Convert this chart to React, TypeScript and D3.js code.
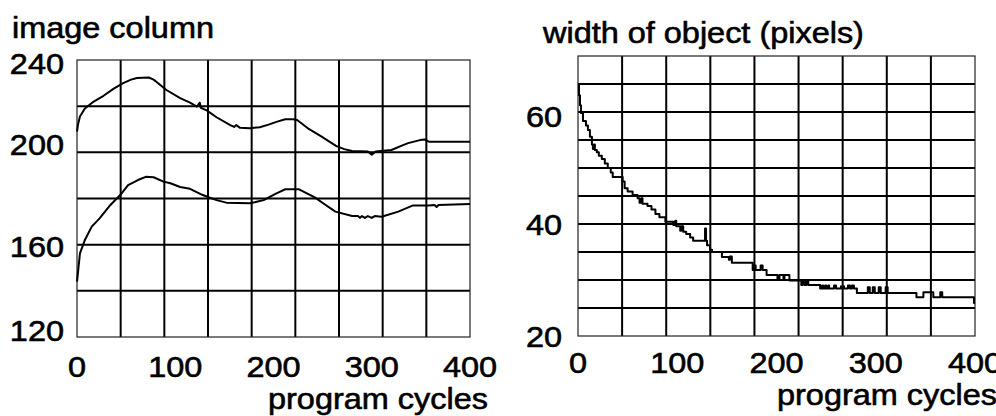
import React from "react";
import * as d3 from "d3";

// tick labels
const cycleTicks = [0, 100, 200, 300, 400];
const columnTicks = [120, 160, 200, 240];
const widthTicks = [20, 40, 60];

// left panel: image column of the two object edges, per program cycle
const upperEdge: [number, number][] = [
  [0, 209], [1, 212], [3, 215.5], [8, 219], [17, 222], [27, 224.5], [37, 227.5],
  [47, 230], [55, 231.5], [61, 232.2], [73, 232.4], [78, 231.5], [81, 230.5],
  [91, 227], [105, 223.5], [115, 221.5], [122, 219.8], [125, 221.5], [126, 219.3],
  [132, 218.2], [142, 215.2], [156, 211.8], [160, 211], [162, 211.8], [166, 210.6],
  [176, 210.4], [186, 210.9], [195, 212], [203, 213.2], [212, 214.3], [220, 214.3],
  [224, 214], [235, 210.4], [249, 206.8], [264, 202.7], [272, 201.4], [280, 200.6],
  [296, 200.4], [300, 199], [304, 200.4], [320, 201], [330, 202.8], [337, 204],
  [349, 205.3], [354, 205.6], [358, 204.6], [400, 204.6],
];
const lowerEdge: [number, number][] = [
  [0, 144], [1, 148], [3, 156.2], [8, 162], [15, 167.8], [23, 171.4], [34, 177.2],
  [44, 181.5], [52, 185.8], [62, 188], [70, 189.4], [78, 189.2], [88, 187.3],
  [95, 186.6], [105, 185], [115, 184.2], [128, 181.5], [142, 179.3], [152, 178.2],
  [176, 177.9], [190, 179.3], [203, 182.2], [212, 184], [226, 184], [242, 180.5],
  [252, 177.5], [263, 174.3], [280, 172.4], [286, 172.4], [288, 171.6], [290, 172.4],
  [293, 171.6], [296, 172.4], [300, 171.6], [303, 172.4], [310, 172.1], [327, 174.3],
  [342, 177], [358, 177], [364, 177.2], [366, 176.3], [368, 177.2], [400, 177.6],
];

// right panel: width of object in pixels (stepped)
const objectWidth: [number, number][] = [
  [0, 65], [1, 63], [2, 61.2], [3, 59.8], [5, 58.4], [8, 57.6], [10, 56.8], [12, 55.6],
  [14, 54.2], [15, 53.4], [16, 54.2], [17, 53.2], [19, 52.8], [21, 52.2], [24, 51.6],
  [27, 50.8], [30, 50.0], [33, 49.2], [35, 48.4], [45, 47.6], [47, 46.4], [50, 45.8],
  [55, 45.2], [60, 44.6], [62, 43.8], [64, 44.6], [65, 43.6], [70, 43.2], [74, 42.6],
  [78, 41.8], [82, 41.2], [88, 40.4], [96, 39.8], [98, 40.6], [99, 39.6], [103, 38.8],
  [104, 39.6], [106, 38.6], [109, 38.2], [113, 37.6], [116, 37.0], [128, 39.2],
  [129, 37.0], [130, 36.2], [133, 35.4], [135, 35.0], [145, 34.1], [152, 33.6],
  [153, 34.2], [155, 33.1], [176, 31.8], [177, 32.6], [179, 31.8], [184, 32.6],
  [186, 31.8], [190, 30.9], [200, 30.9], [201, 30.0], [203, 30.9], [207, 30.0],
  [208, 30.9], [212, 30.9], [213, 29.9], [225, 29.1], [226, 29.8], [228, 29.1],
  [230, 29.8], [232, 29.1], [244, 28.5], [246, 29.0], [247, 28.5], [249, 29.0],
  [250, 28.5], [252, 29.0], [253, 28.5], [258, 29.0], [260, 28.5], [265, 28.9],
  [268, 28.5], [272, 29.0], [274, 28.5], [276, 29.0], [278, 28.5], [281, 27.7],
  [292, 28.7], [294, 27.7], [297, 28.7], [299, 27.7], [303, 28.7], [305, 27.7],
  [310, 28.7], [312, 27.7], [341, 26.9], [348, 27.8], [358, 26.9], [365, 27.8],
  [367, 26.9], [399, 25.9], [400, 25.9],
];

const W = 996;
const H = 416;
const FONT = "'Liberation Sans', Arial, Helvetica, sans-serif";
const FS = 29.5;
const SX = 1.1; // the original lettering is a bit wider than Arial

function Label({ x, y, anchor = "start", children }: any) {
  return (
    <text
      transform={`translate(${x},${y}) scale(${SX},1)`}
      textAnchor={anchor}
      fontFamily={FONT}
      fontSize={FS}
      fill="#000"
      stroke="#000"
      strokeWidth={0.6}
    >
      {children}
    </text>
  );
}

function Panel(p: any) {
  const x = d3.scaleLinear().domain([0, 400]).range([p.x0, p.x1]);
  const y = d3.scaleLinear().domain(p.yDomain).range([p.y1, p.y0]);
  const vGrid = d3.range(1, 9).map((i) => (i * 400) / 9);
  const hGrid = d3.range(p.yDomain[0] + p.yStep, p.yDomain[1] - 0.001, p.yStep);
  const line = d3
    .line<[number, number]>()
    .x((d) => x(d[0]))
    .y((d) => y(d[1]))
    .curve(p.curve || d3.curveLinear);

  return (
    <g>
      {vGrid.map((v) => (
        <line key={"v" + v} x1={x(v)} x2={x(v)} y1={p.y0} y2={p.y1} stroke="#000" strokeWidth={2} />
      ))}
      {hGrid.map((v) => (
        <line key={"h" + v} x1={p.x0} x2={p.x1} y1={y(v)} y2={y(v)} stroke="#000" strokeWidth={2} />
      ))}
      <rect x={p.x0} y={p.y0} width={p.x1 - p.x0} height={p.y1 - p.y0} fill="none" stroke="#222" strokeWidth={1.2} />
      {p.series.map((s: [number, number][], i: number) => (
        <path key={i} d={line(s) || ""} fill="none" stroke="#000" strokeWidth={2} strokeLinejoin="round" />
      ))}
      {p.yTicks.map((t: number) => (
        <Label key={"yt" + t} x={p.x0 - p.yLabelGap} y={y(t) + (p.yNudge[t] ?? 10.5)} anchor="end">
          {t}
        </Label>
      ))}
      {cycleTicks.map((t) => (
        <Label key={"xt" + t} x={x(t)} y={p.xTickBase} anchor="middle">
          {t}
        </Label>
      ))}
      <Label x={p.xTitleX} y={p.xTitleBase}>program cycles</Label>
      <Label x={p.titleX} y={p.titleBase}>{p.title}</Label>
    </g>
  );
}

export default function App() {
  return (
    <svg
      width={W}
      height={H}
      viewBox={`0 0 ${W} ${H}`}
      style={{ position: "absolute", left: 0, top: 0, display: "block", background: "#fff" }}
    >
      <rect width={W} height={H} fill="#fff" />
      <Panel
        x0={77}
        x1={470}
        y0={60}
        y1={337}
        yDomain={[120, 240]}
        yStep={20}
        yTicks={columnTicks}
        yNudge={{ 240: 14, 200: 3, 160: 12, 120: 4 }}
        yLabelGap={13}
        series={[upperEdge, lowerEdge]}
        xTickBase={377}
        xTitleX={268}
        xTitleBase={409}
        title="image column"
        titleX={12}
        titleBase={38}
      />
      <Panel
        x0={578}
        x1={975}
        y0={56}
        y1={336}
        yDomain={[20, 70]}
        yStep={5}
        yTicks={widthTicks}
        yNudge={{ 60: 15, 40: 11, 20: 11 }}
        yLabelGap={16}
        series={[objectWidth]}
        curve={d3.curveStepAfter}
        xTickBase={373}
        xTitleX={777}
        xTitleBase={405}
        title="width of object (pixels)"
        titleX={543}
        titleBase={43}
      />
    </svg>
  );
}
